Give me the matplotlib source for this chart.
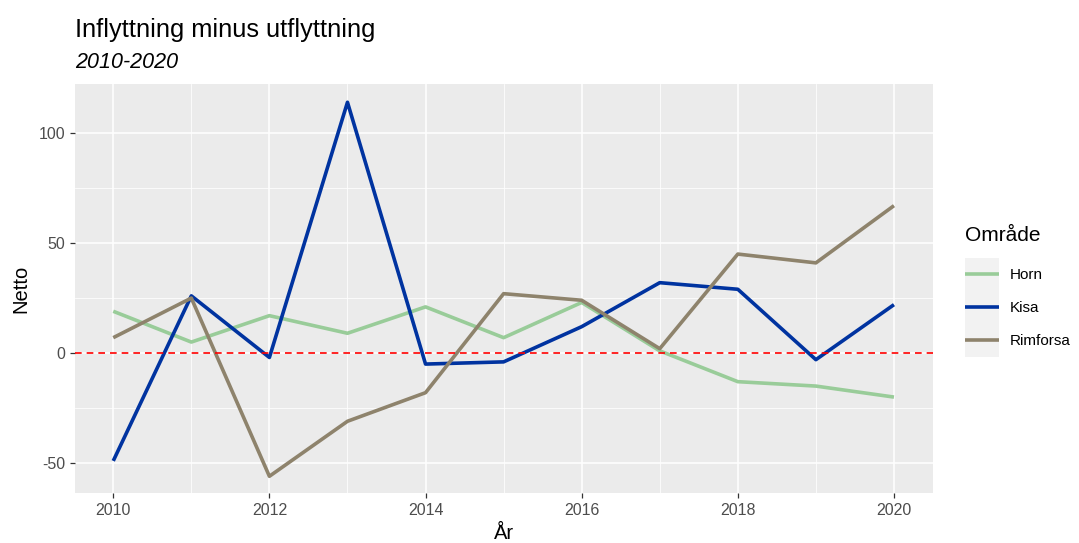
import matplotlib.pyplot as plt
from matplotlib.ticker import MultipleLocator
from matplotlib.legend_handler import HandlerLine2D
from matplotlib.patches import Rectangle

plt.rcParams['font.family'] = ['Liberation Sans', 'DejaVu Sans']
plt.rcParams['axes.unicode_minus'] = False

years = [2010, 2011, 2012, 2013, 2014, 2015, 2016, 2017, 2018, 2019, 2020]
horn = [19, 5, 17, 9, 21, 7, 23, 1, -13, -15, -20]
kisa = [-49, 26, -2, 114, -5, -4, 12, 32, 29, -3, 22]
rimforsa = [7, 25, -56, -31, -18, 27, 24, 2, 45, 41, 67]

series = [("Horn", horn, "#99CC99"), ("Kisa", kisa, "#0033A0"), ("Rimforsa", rimforsa, "#8E836C")]


class BoxHandler(HandlerLine2D):
    # ggplot-style legend key: grey box behind a centred line
    def create_artists(self, legend, orig_handle, xdescent, ydescent, width, height, fontsize, trans):
        rect = Rectangle((-xdescent, -ydescent), width, height, facecolor='#F2F2F2',
                         edgecolor='none', transform=trans)
        arts = super().create_artists(legend, orig_handle, xdescent, ydescent, width, height, fontsize, trans)
        for a in arts:
            xd = a.get_xdata()
            a.set_ydata([height / 2 - ydescent] * len(xd))
        return [rect] + list(arts)


fig = plt.figure(figsize=(10.79, 5.43), dpi=100)
ax = fig.add_axes([75/1079, 50/543, (933-75)/1079, (493-84)/543])
ax.set_facecolor("#EBEBEB")

for name, vals, col in series:
    ax.plot(years, vals, color=col, lw=2.6, label=name, solid_capstyle='butt', zorder=3)
ax.axhline(0, color="#FF0000", ls=(0, (4, 3)), lw=1.2, zorder=4)

ax.set_xlim(2009.51, 2020.5)
ax.set_ylim(-63.6, 122.3)
ax.xaxis.set_major_locator(MultipleLocator(2))
ax.xaxis.set_minor_locator(MultipleLocator(1))
ax.yaxis.set_major_locator(MultipleLocator(50))
ax.yaxis.set_minor_locator(MultipleLocator(25))
ax.grid(which='major', color='white', lw=1.1)
ax.grid(which='minor', color='white', lw=0.55)
ax.set_axisbelow(True)
for s in ax.spines.values():
    s.set_visible(False)
ax.tick_params(which='major', length=3.5, color='#333333', labelsize=11.5, labelcolor='#4D4D4D', width=0.9)
ax.tick_params(which='minor', length=0)

ax.set_xlabel("År", fontsize=14.5, labelpad=4.5)
ax.set_ylabel("Netto", fontsize=14.5, labelpad=6)
fig.text(75/1079, 1 - 30/543, "Inflyttning minus utflyttning", fontsize=18.3, va='center', ha='left')
fig.text(75/1079, 1 - 62/543, "2010-2020", fontsize=15.5, style='italic', va='center', ha='left')

handles, labels = ax.get_legend_handles_labels()
leg = fig.legend(handles, labels, loc='upper left', bbox_to_anchor=(965/1079, 1 - 226/543),
                 bbox_transform=fig.transFigure, frameon=False, title="Område",
                 fontsize=11, title_fontsize=15, handlelength=2.2, handleheight=2.95,
                 labelspacing=0, handletextpad=0.7, borderpad=0, borderaxespad=0,
                 alignment='left', handler_map={plt.Line2D: BoxHandler()})
leg._legend_box.sep = 9
for h in leg.legend_handles:
    h.set_linewidth(3)

fig.savefig("out.png", dpi=100)
